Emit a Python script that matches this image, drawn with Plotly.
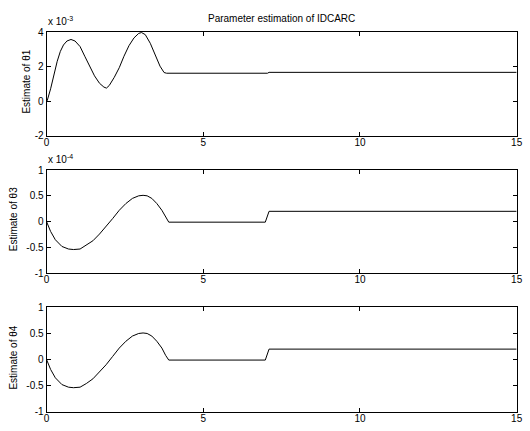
import plotly.graph_objects as go

# Time samples (s) and parameter estimates for the IDCARC identifier
t1 = [0.0, 0.02, 0.13, 0.23, 0.34, 0.44, 0.54, 0.65, 0.78, 0.91, 1.07, 1.22, 1.38,
      1.53, 1.69, 1.83, 1.91, 2.0, 2.16, 2.32, 2.47, 2.63, 2.79, 2.94, 3.03, 3.15,
      3.31, 3.47, 3.62, 3.75, 3.83, 7.05, 7.1, 15.0]
theta1 = [0.0, 0.03, 0.72, 1.56, 2.31, 2.88, 3.25, 3.48, 3.57, 3.48, 3.16, 2.6, 2.03,
          1.47, 1.04, 0.82, 0.76, 0.91, 1.38, 1.94, 2.6, 3.21, 3.66, 3.92, 3.97, 3.85,
          3.35, 2.69, 2.03, 1.66, 1.62, 1.62, 1.67, 1.67]

t3 = [0.0, 0.13, 0.28, 0.49, 0.70, 0.86, 1.07, 1.27, 1.48, 1.69, 1.9, 2.11, 2.32,
      2.53, 2.74, 2.94, 3.08, 3.21, 3.36, 3.52, 3.68, 3.8, 3.9, 6.98, 7.1, 15.0]
theta3 = [0.0, -0.19, -0.35, -0.48, -0.53, -0.54, -0.53, -0.46, -0.37, -0.24, -0.1,
          0.06, 0.22, 0.35, 0.45, 0.5, 0.51, 0.5, 0.45, 0.35, 0.22, 0.08, -0.01,
          -0.01, 0.2, 0.2]

t4 = [0.0, 0.13, 0.28, 0.49, 0.70, 0.86, 1.07, 1.27, 1.48, 1.69, 1.9, 2.11, 2.32,
      2.53, 2.74, 2.94, 3.08, 3.21, 3.36, 3.52, 3.68, 3.8, 3.9, 6.98, 7.1, 15.0]
theta4 = [0.0, -0.19, -0.35, -0.48, -0.53, -0.54, -0.53, -0.46, -0.37, -0.24, -0.1,
          0.06, 0.22, 0.35, 0.45, 0.5, 0.51, 0.5, 0.45, 0.35, 0.22, 0.08, -0.01,
          -0.01, 0.2, 0.2]

x_ticks = [0, 5, 10, 15]
y1_ticks = [-2, 0, 2, 4]
y_ticks = [-1, -0.5, 0, 0.5, 1]
y_tick_text = ["-1", "-0.5", "0", "0.5", "1"]

W, H = 530, 431
FONT = "Liberation Sans, Arial, sans-serif"

def px_x(p):
    return p / W

def px_y(p):
    return 1 - p / H

x_dom = [px_x(44.3), px_x(522.5)]
panels = [
    (t1, theta1, [px_y(133.3), px_y(26.7)], [-2, 4], y1_ticks, [str(v) for v in y1_ticks]),
    (t3, theta3, [px_y(274.3), px_y(168.3)], [-1, 1], y_ticks, y_tick_text),
    (t4, theta4, [px_y(416.3), px_y(309.3)], [-1, 1], y_ticks, y_tick_text),
]

fig = go.Figure()
layout = dict(
    width=W, height=H,
    margin=dict(l=0, r=0, t=0, b=0),
    paper_bgcolor="white", plot_bgcolor="white",
    showlegend=False,
    font=dict(family=FONT, size=10, color="black"),
)

axis_common = dict(
    showline=True, linecolor="black", linewidth=1, mirror="ticks",
    ticks="inside", ticklen=4, tickcolor="black", tickwidth=1,
    showgrid=False, zeroline=False,
    tickfont=dict(family=FONT, size=10, color="black"),
)

for i, (tx, ty, ydom, yrng, yt, ytt) in enumerate(panels, start=1):
    sfx = "" if i == 1 else str(i)
    fig.add_trace(go.Scatter(
        x=tx, y=ty, mode="lines",
        line=dict(color="black", width=1),
        xaxis="x" + sfx, yaxis="y" + sfx, hoverinfo="skip",
    ))
    layout["xaxis" + sfx] = dict(
        axis_common, domain=x_dom, range=[0, 15], tickvals=x_ticks,
        anchor="y" + sfx, ticklabelstandoff=-3,
    )
    layout["yaxis" + sfx] = dict(
        axis_common, domain=ydom, range=yrng, tickvals=yt, ticktext=ytt,
        anchor="x" + sfx,
    )

annotations = [
    dict(text="Parameter estimation of IDCARC", x=px_x(283.4), y=px_y(13),
         xref="paper", yref="paper", showarrow=False, xanchor="center",
         yanchor="middle", font=dict(size=10)),
    dict(text="x 10<sup>-3</sup>", x=px_x(44), y=px_y(24), xref="paper",
         yref="paper", showarrow=False, xanchor="left", yanchor="bottom",
         font=dict(size=10)),
    dict(text="x 10<sup>-4</sup>", x=px_x(44), y=px_y(165), xref="paper",
         yref="paper", showarrow=False, xanchor="left", yanchor="bottom",
         font=dict(size=10)),
    dict(text="Estimate of θ1", x=px_x(23), y=px_y(78), xref="paper",
         yref="paper", showarrow=False, textangle=-90, xanchor="center",
         yanchor="middle", font=dict(size=10)),
    dict(text="Estimate of θ3", x=px_x(11), y=px_y(219), xref="paper",
         yref="paper", showarrow=False, textangle=-90, xanchor="center",
         yanchor="middle", font=dict(size=10)),
    dict(text="Estimate of θ4", x=px_x(11), y=px_y(361), xref="paper",
         yref="paper", showarrow=False, textangle=-90, xanchor="center",
         yanchor="middle", font=dict(size=10)),
]
layout["annotations"] = annotations

fig.update_layout(**layout)
fig.write_html("out.html")
